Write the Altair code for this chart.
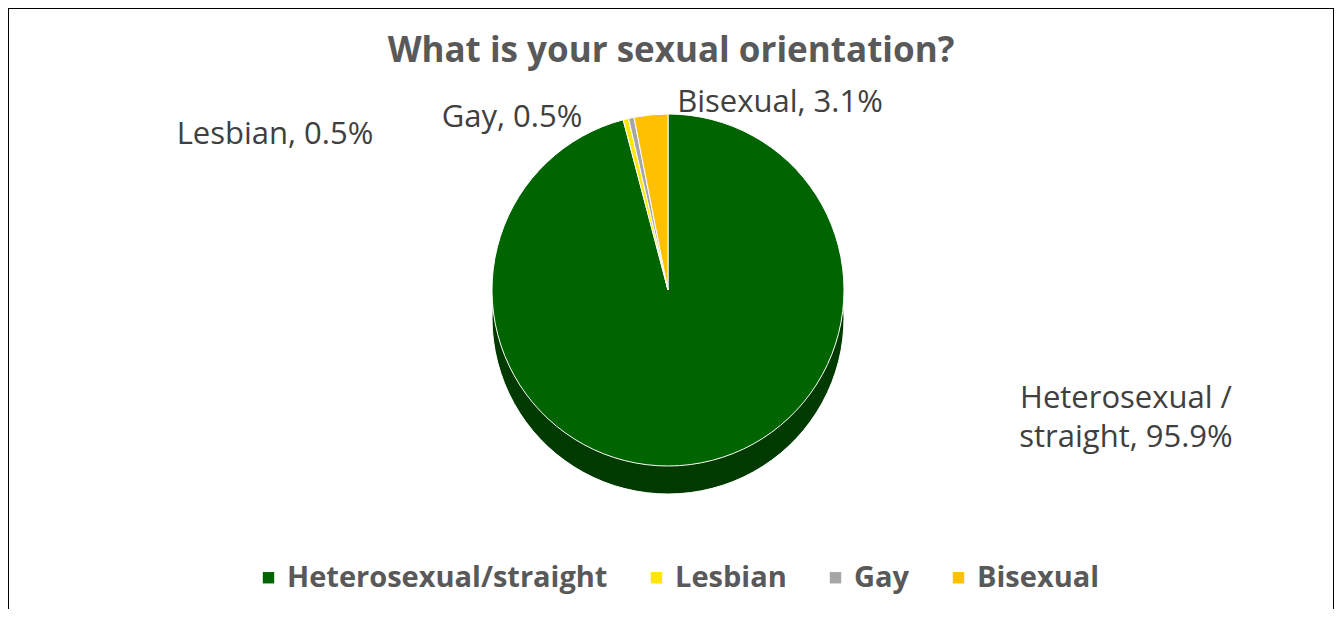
import altair as alt
import pandas as pd

categories = ["Heterosexual/straight", "Lesbian", "Gay", "Bisexual"]
values = [95.9, 0.5, 0.5, 3.1]
colors = ["#006400", "#FFE600", "#A6A6A6", "#FFC000"]
label_lines = [["Heterosexual /", "straight, 95.9%"], ["Lesbian, 0.5%"], ["Gay, 0.5%"], ["Bisexual, 3.1%"]]

df = pd.DataFrame({"category": categories, "value": values, "order": list(range(len(categories)))})

W, H = 1326, 601
CX, CY, R, DEPTH = 660, 282, 176, 28
FONT = "Open Sans"

color_scale = alt.Scale(domain=categories, range=colors)

depth = alt.Chart(df).mark_arc(outerRadius=R, color="#003A00", stroke="#FFFFFF", strokeWidth=1).encode(
    theta=alt.Theta("value:Q", stack=True),
    order=alt.Order("order:Q"),
    x=alt.value(CX), y=alt.value(CY + DEPTH),
)

pie = alt.Chart(df).mark_arc(outerRadius=R, stroke="#FFFFFF", strokeWidth=1).encode(
    theta=alt.Theta("value:Q", stack=True),
    order=alt.Order("order:Q"),
    x=alt.value(CX), y=alt.value(CY),
    color=alt.Color("category:N", scale=color_scale, sort=categories,
                    legend=alt.Legend(title=None, orient="none", direction="horizontal",
                                      legendX=246, legendY=555, symbolType="square",
                                      symbolSize=130, symbolStrokeWidth=0,
                                      labelFont=FONT, labelFontSize=29, labelFontWeight="bold",
                                      labelColor="#595959", columnPadding=34, symbolOffset=0,
                                      labelLimit=500)),
)

one = pd.DataFrame({"k": [0]})

def label(lines, x, y, align="center"):
    return alt.Chart(one).mark_text(text=lines, font=FONT, fontSize=31, color="#404040",
                                    align=align, baseline="middle", lineHeight=39).encode(
        x=alt.value(x), y=alt.value(y))

labels = [
    label(label_lines[0], 1118, 391),
    label(label_lines[1], 267, 127),
    label(label_lines[2], 504, 110),
    label(label_lines[3], 772, 95),
]

def border(x, y, x2, y2):
    return alt.Chart(one).mark_rule(color="#000000", strokeWidth=2).encode(
        x=alt.value(x), y=alt.value(y), x2=alt.value(x2), y2=alt.value(y2))

borders = [border(0, 0, 0, 700), border(0, 0, 1326, 0), border(1326, 0, 1326, 700)]

chart = alt.layer(depth, pie, *labels, *borders).properties(
    width=W, height=H,
    title=alt.TitleParams("What is your sexual orientation?", font=FONT, fontSize=35,
                          fontWeight="bold", color="#595959", anchor="middle", offset=-62),
    autosize=alt.AutoSizeParams(type="none"),
    padding=0,
    background="#FFFFFF",
).configure_view(stroke=None)

chart.save("out.html", embed_options={"renderer": "svg", "actions": False})
